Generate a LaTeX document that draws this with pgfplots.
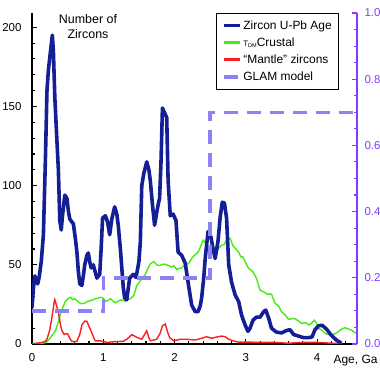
\documentclass[border=0pt]{standalone}
\usepackage{fontspec}
\setmainfont{Liberation Sans}
\usepackage{pgfplots}
\pgfplotsset{compat=1.18}
\definecolor{zblue}{RGB}{20,30,150}
\definecolor{zgreen}{RGB}{70,235,20}
\definecolor{zred}{RGB}{250,30,30}
\definecolor{glam}{RGB}{140,130,245}
\definecolor{raxis}{RGB}{130,60,255}

\begin{document}
\begin{tikzpicture}
\pgfplotsset{
  common/.style={
    scale only axis, width=325bp, height=331bp,
    xmin=0, xmax=4.56,
    font=\fontsize{11.5}{13}\selectfont,
    tick align=inside,
    major tick length=5bp, minor tick length=3bp,
    /pgf/number format/assume math mode=true,
  }
}
\begin{axis}[common,
  ymin=0, ymax=209,
  axis x line*=bottom, axis y line*=left,
  xtick={0,1,2,3,4}, minor xtick={0.2,0.4,0.6,0.8,1.2,1.4,1.6,1.8,2.2,2.4,2.6,2.8,3.2,3.4,3.6,3.8,4.2,4.4},
  ytick={0,50,100,150,200}, minor y tick num=4,
  axis line style={line width=1.6bp, black},
  every tick/.style={black, line width=1.1bp},
  xticklabel style={yshift=-6bp},
  yticklabel style={xshift=-7bp},
]
\addplot[zgreen, line width=1.4bp] coordinates {
(0.00,0) (0.10,0) (0.20,1) (0.26,4) (0.33,8.4) (0.37,14) (0.40,19) (0.44,24) (0.47,27) (0.50,28.5)
(0.54,29.5) (0.57,28) (0.60,28.6) (0.64,27) (0.68,25.6) (0.72,25.5) (0.75,26) (0.78,27) (0.82,27.3)
(0.86,28) (0.89,28.6) (0.93,29) (0.96,29.5) (1.00,29) (1.03,27) (1.07,27.5) (1.10,28.6) (1.14,27)
(1.17,26) (1.21,27) (1.24,27.8) (1.28,27.5) (1.31,27) (1.35,28) (1.38,28.6) (1.43,30.8) (1.47,36.8)
(1.52,40) (1.56,42) (1.59,44) (1.63,48) (1.66,50.5) (1.71,52) (1.75,50) (1.78,49.5) (1.82,50)
(1.85,50.5) (1.89,50) (1.92,49.5) (1.96,48.5) (1.99,49.4) (2.03,47) (2.06,47.7) (2.10,48) (2.13,49.5)
(2.17,50) (2.20,51) (2.24,54) (2.28,56) (2.33,58) (2.37,62) (2.40,65.6) (2.44,63.7) (2.48,61)
(2.52,59.5) (2.57,61) (2.60,59) (2.63,61) (2.66,62.5) (2.69,62.5) (2.73,65.6) (2.76,66.5) (2.78,66.7)
(2.82,62) (2.86,60) (2.90,58) (2.93,55) (2.96,55) (3.00,51) (3.04,47.8) (3.10,45.6) (3.15,41.4)
(3.20,34) (3.25,33) (3.30,31.5) (3.36,31.5) (3.41,25.7) (3.46,24) (3.50,20.4) (3.56,18) (3.60,15.5)
(3.65,16) (3.69,16) (3.74,14.5) (3.78,13) (3.84,13.5) (3.88,12) (3.92,13) (3.96,15) (3.99,13.5)
(4.02,10) (4.07,8.5) (4.11,6.7) (4.16,6) (4.20,5.7) (4.25,6.5) (4.30,7.8) (4.35,9.5) (4.39,10.3)
(4.44,9.5) (4.48,8.8) (4.52,7.5) (4.56,6.7)
};
\addplot[zred, line width=1.4bp] coordinates {
(0.00,0) (0.06,0.5) (0.12,0.8) (0.18,1.5) (0.21,3) (0.25,9) (0.28,17) (0.31,26) (0.32,28) (0.34,25)
(0.37,20) (0.40,12) (0.42,8.4) (0.45,6) (0.47,6.5) (0.50,6.4) (0.53,3.5) (0.56,1.7) (0.60,1.5)
(0.63,1.7) (0.67,6) (0.70,12) (0.74,14.5) (0.77,14.3) (0.80,11) (0.84,7) (0.87,3.5) (0.89,2)
(0.96,2) (1.05,1) (1.17,1.5) (1.28,1.7) (1.33,3) (1.36,4.2) (1.40,5.9) (1.44,5) (1.47,4.2) (1.54,3)
(1.58,6) (1.61,8.4) (1.64,4) (1.66,2) (1.75,3) (1.80,7) (1.83,11.5) (1.87,12.6) (1.90,8) (1.93,4)
(1.99,2) (2.08,3) (2.17,3) (2.29,2.5) (2.38,3.6) (2.45,4.6) (2.52,3.6) (2.61,4.6) (2.66,5) (2.71,4.6)
(2.76,3) (2.82,2) (2.90,1.2) (3.04,1.2) (3.20,1) (3.40,1) (3.60,0.5) (3.80,1) (4.00,1) (4.20,0.5)
(4.35,0.3)
};
\addplot[zblue, line width=3.6bp, line join=round] coordinates {
(0.00,23) (0.02,35) (0.04,43) (0.06,40) (0.08,38) (0.10,42) (0.13,52) (0.16,69) (0.19,120) (0.21,160)
(0.23,173) (0.26,185) (0.285,195) (0.30,185) (0.32,156) (0.35,128) (0.37,110) (0.39,78) (0.41,72)
(0.43,82) (0.46,94) (0.49,92) (0.51,84) (0.53,79) (0.56,77) (0.58,76) (0.61,66) (0.63,58) (0.65,46)
(0.67,38) (0.70,37) (0.72,43) (0.74,50) (0.77,56) (0.79,57.5) (0.81,52) (0.83,48) (0.86,50) (0.89,45)
(0.91,41.6) (0.95,44) (0.97,60) (0.99,79.5) (1.03,81) (1.06,77) (1.09,69) (1.12,79) (1.16,86.6)
(1.19,82) (1.21,75) (1.24,60) (1.26,48) (1.28,36) (1.30,29) (1.33,28) (1.35,35) (1.37,41.6) (1.42,44)
(1.46,42) (1.50,52) (1.52,64.5) (1.54,100) (1.57,108) (1.61,115) (1.64,110) (1.66,103) (1.69,88)
(1.72,75) (1.75,83) (1.77,88) (1.79,92) (1.81,115) (1.83,149) (1.86,146) (1.89,143) (1.91,103)
(1.94,81) (1.98,82) (2.02,78) (2.05,58) (2.10,56) (2.15,51) (2.19,39) (2.24,24.6) (2.29,20.4)
(2.33,20.4) (2.36,24) (2.38,29) (2.41,42) (2.43,54) (2.47,71) (2.51,67.7) (2.54,60) (2.57,54)
(2.61,65) (2.64,80) (2.67,89.5) (2.70,89) (2.73,79.5) (2.76,50) (2.80,39) (2.85,31) (2.90,26.7)
(2.94,18.3) (2.99,12) (3.03,8) (3.06,10) (3.10,15) (3.15,17) (3.20,17) (3.25,20.4) (3.28,21.4)
(3.32,16.4) (3.36,10) (3.43,7.5) (3.50,7) (3.57,8.5) (3.62,9) (3.67,6) (3.74,5) (3.81,4) (3.88,4)
(3.93,4.5) (3.97,9) (4.02,11.5) (4.07,11.8) (4.13,9.5) (4.20,5.5) (4.27,2.5) (4.34,0.5)
};
\end{axis}
\begin{axis}[common,
  ymin=0, ymax=1.0,
  axis x line=none, axis y line*=right,
  ytick={0,0.2,0.4,0.6,0.8,1.0}, minor y tick num=3,
  yticklabel style={raxis, xshift=4bp, /pgf/number format/.cd, fixed, fixed zerofill, precision=1},
  y axis line style={raxis, line width=1.6bp},
  every tick/.style={raxis, line width=1.1bp},
  legend style={at={(0.945,1.0)}, anchor=north east, draw=black, line width=0.8bp, fill=white,
    font=\fontsize{12}{14}\selectfont, row sep=3bp, inner xsep=5bp, inner ysep=5bp},
  legend image code/.code={\draw[#1] (0bp,0bp) -- (16bp,0bp);},
  legend cell align=left,
]
\addlegendimage{zblue, line width=3bp}
\addlegendentry{Zircon U-Pb Age\hspace{12bp}}
\addlegendimage{zgreen, line width=3bp}
\addlegendentry{{\fontsize{8}{9}\selectfont T\raisebox{-0.3ex}{\fontsize{5.5}{6}\selectfont DM}}Crustal}
\addlegendimage{zred, line width=3bp}
\addlegendentry{``Mantle'' zircons}
\addplot[glam, line width=3.5bp, dash pattern=on 14bp off 9bp] coordinates {
(0,0.1) (1,0.1) (1,0.2) (2.5,0.2) (2.5,0.7) (4.56,0.7)
};
\addlegendentry{GLAM model}
\end{axis}
\node[align=center, font=\fontsize{12.5}{15}\selectfont] at (56bp,317bp) {Number of\\Zircons};
\node[anchor=east, font=\fontsize{12}{14}\selectfont] at (349bp,-17bp) {Age, Ga};
\pgfresetboundingbox
\useasboundingbox (-32bp,-24bp) rectangle (348bp,344bp);
\end{tikzpicture}
\end{document}
